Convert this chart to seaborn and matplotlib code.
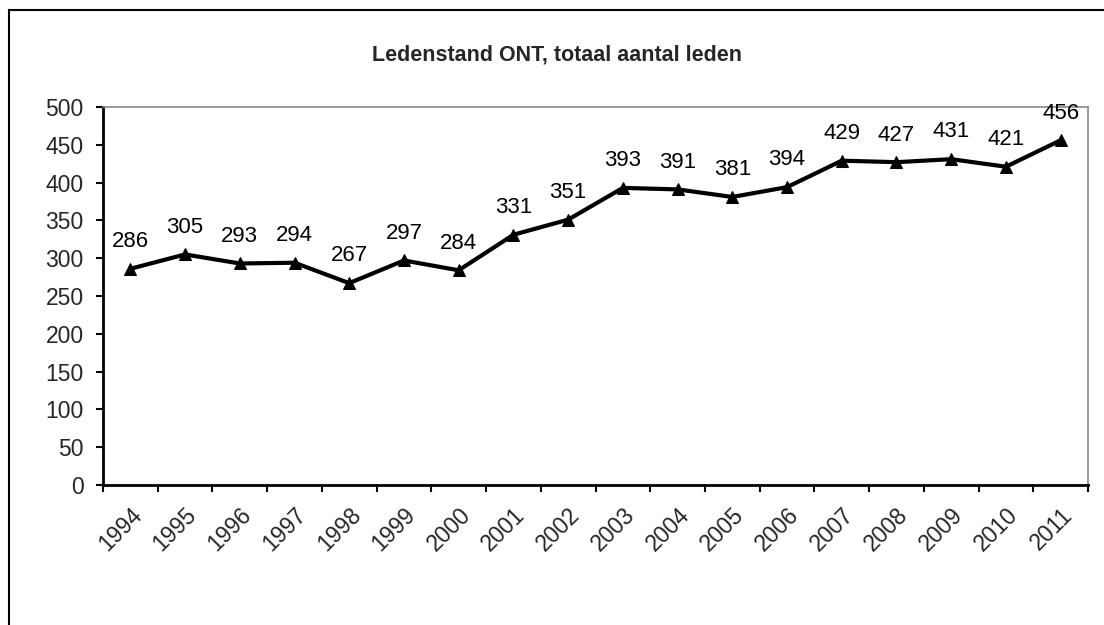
import matplotlib
matplotlib.use('Agg')
import numpy as np
import pandas as pd
import matplotlib.pyplot as plt
import seaborn as sns
from matplotlib.patches import Rectangle

# Data
jaren = ['1994', '1995', '1996', '1997', '1998', '1999', '2000', '2001', '2002',
         '2003', '2004', '2005', '2006', '2007', '2008', '2009', '2010', '2011']
leden = [286, 305, 293, 294, 267, 297, 284, 331, 351,
         393, 391, 381, 394, 429, 427, 431, 421, 456]
y_ticks = [0, 50, 100, 150, 200, 250, 300, 350, 400, 450, 500]
titel = "Ledenstand ONT, totaal aantal leden"

sns.set_theme(style="white")
plt.rcParams['font.family'] = ['Liberation Sans', 'DejaVu Sans']

df = pd.DataFrame({'pos': np.arange(len(jaren)), 'jaar': jaren, 'leden': leden})

fig = plt.figure(figsize=(11.04, 6.25), dpi=100)
ax = fig.add_axes([103 / 1104, 1 - 485 / 625, (1088 - 103) / 1104, (485 - 107) / 625])

sns.lineplot(data=df, x='pos', y='leden', ax=ax, color='black', linewidth=3,
             marker='^', markersize=9, markeredgecolor='black', markerfacecolor='black')

for p, v in zip(df['pos'], df['leden']):
    ax.annotate(str(v), (p, v), xytext=(0, 12), textcoords='offset points',
                ha='center', va='bottom', fontsize=16, color='black')

ax.set_xlim(-0.5, len(jaren) - 0.5)
ax.set_ylim(0, 500)
ax.set_yticks(y_ticks)
ax.set_yticklabels([str(t) for t in y_ticks], fontsize=16.5)
ax.set_xticks(df['pos'])
ax.set_xticklabels(jaren, rotation=45, ha='right', rotation_mode='anchor', fontsize=16.5)
ax.set_xticks(np.arange(-0.5, len(jaren)), minor=True)
ax.tick_params(axis='x', which='major', length=0, pad=13)
ax.tick_params(axis='x', which='minor', length=5, width=1.5, color='black', direction='out', bottom=True)
ax.tick_params(axis='y', length=5, width=1.5, color='black', direction='out', left=True, pad=9)
ax.set_xlabel('')
ax.set_ylabel('')

for s in ['left', 'bottom']:
    ax.spines[s].set_color('black')
    ax.spines[s].set_linewidth(2)
for s in ['top', 'right']:
    ax.spines[s].set_color('#888888')
    ax.spines[s].set_linewidth(1.2)

fig.text(557 / 1104, 1 - 55 / 625, titel, ha='center', va='center', fontsize=15.5, fontweight='bold')

fig.patches.append(Rectangle((9 / 1104, -0.1), 1.2, 1 - 10 / 625 + 0.1, transform=fig.transFigure,
                             fill=False, edgecolor='black', linewidth=1.5, clip_on=False))

fig.savefig('out.png', dpi=100)
